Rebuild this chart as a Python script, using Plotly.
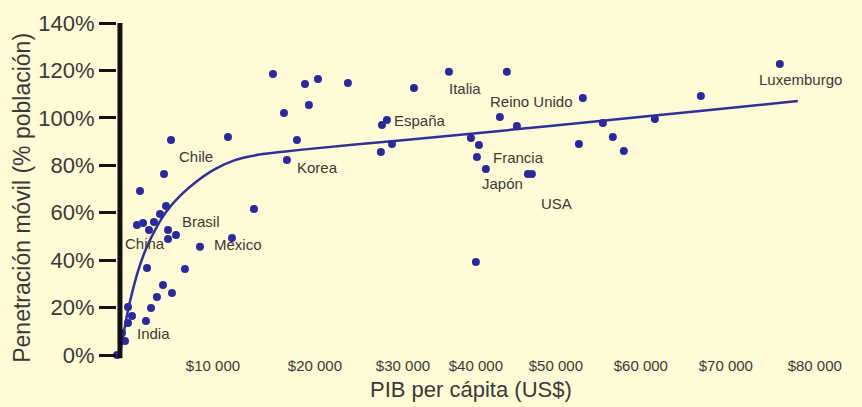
import plotly.graph_objects as go

# --- data (GDP per capita in US$, mobile penetration in %) ---
gdp = [0, 570, 920, 1260, 1720, 1260, 3320, 3900, 4580, 5270, 6300, 3440, 7790, 9510,
       13180, 15700, 5850, 6760, 5850, 3670, 4240, 2290, 2980, 4930, 5620, 2640, 5390,
       6190, 12720, 19480, 17880, 19140, 20630, 21550, 23040, 26470, 22000, 34040,
       38050, 30370, 30940, 31520, 30250, 40570, 41490, 41260, 42290, 44690, 43890,
       45840, 47100, 47560, 53400, 52950, 55700, 56840, 58100, 61660, 66930, 75980, 41140]
penetration = [0, 9.3, 5.9, 13.5, 16.4, 20.2, 14.3, 19.8, 24.5, 29.5, 26.1, 36.7, 36.3, 45.6,
               49.3, 61.6, 48.9, 50.6, 52.7, 52.7, 56.1, 54.8, 55.7, 59.5, 62.8, 69.2, 76.3,
               90.7, 91.9, 82.2, 118.5, 102.1, 90.7, 114.3, 116.4, 114.7, 105.4, 112.6,
               119.4, 97.0, 99.1, 89.0, 85.6, 91.5, 88.6, 83.5, 78.4, 119.4, 100.4,
               96.6, 76.3, 76.3, 108.4, 89.0, 97.8, 91.9, 86.0, 99.5, 109.2, 122.7, 39.2]

# fitted trend curve
fit_gdp = [300, 690, 1150, 1720, 2410, 3320, 4360, 5620, 7220, 9050, 11230, 13520, 16160,
           18680, 20970, 32430, 43890, 55350, 66810, 78040]
fit_pen = [0, 7.6, 16.9, 26.1, 35.4, 44.7, 52.7, 60.3, 67.1, 73.0, 78.4, 82.2, 84.4,
           85.6, 86.5, 90.5, 94.5, 98.7, 102.9, 107.1]

# country labels
countries = ["Chile", "Brasil", "China", "Mexico", "India", "Korea", "España", "Italia",
             "Reino Unido", "Francia", "Japón", "USA", "Luxemburgo"]
label_gdp = [9050, 9630, 3210, 13870, 4240, 23040, 34720, 39880, 47560, 46070, 44240,
             50420, 78390]
label_pen = [83.5, 56.5, 47.2, 46.4, 8.9, 78.9, 98.7, 112.2, 106.7, 83.1, 72.5, 63.7, 116.0]

# x tick labels (placed where the reference prints them)
tick_text = ["$10 000", "$20 000", "$30 000", "$40 000", "$50 000", "$60 000",
             "$70 000", "$80 000"]
tick_at = [11000, 22690, 32780, 41140, 50310, 60050, 69790, 79990]

y_ticks = [0, 20, 40, 60, 80, 100, 120, 140]

BG = "#FFFBD6"
DOT = "#2A2A9E"
TXT = "#3A3A3A"
FONT = "Liberation Sans, Arial, Helvetica, sans-serif"

fig = go.Figure()
fig.add_trace(go.Scatter(x=fit_gdp, y=fit_pen, mode="lines",
                         line=dict(color="#30309A", width=2.5, shape="spline", smoothing=0.9),
                         hoverinfo="skip", showlegend=False, cliponaxis=False))
fig.add_trace(go.Scatter(x=gdp, y=penetration, mode="markers",
                         marker=dict(color=DOT, size=8, line=dict(width=0)),
                         showlegend=False, cliponaxis=False))

for name, gx, py in zip(countries, label_gdp, label_pen):
    fig.add_annotation(x=gx, y=py, text=name, showarrow=False,
                       font=dict(family=FONT, size=15, color=TXT),
                       xanchor="center", yanchor="middle")

# axis titles
fig.add_annotation(xref="paper", yref="paper", x=0.48, y=-0.105, text="PIB per cápita (US$)",
                   showarrow=False, font=dict(family=FONT, size=22, color=TXT),
                   xanchor="center", yanchor="middle")
fig.add_annotation(xref="paper", yref="paper", x=-0.129, y=0.473,
                   text="Penetración móvil (% población)", textangle=-90,
                   showarrow=False, font=dict(family=FONT, size=23, color=TXT),
                   xanchor="center", yanchor="middle")

# thick vertical axis line
fig.add_shape(type="line", xref="paper", yref="paper", x0=0.004, x1=0.004, y0=-0.01, y1=1.0,
              line=dict(color="#111111", width=5))

fig.update_layout(
    width=862, height=407,
    margin=dict(l=117, r=7, t=23, b=52),
    paper_bgcolor=BG, plot_bgcolor=BG,
    font=dict(family=FONT, color=TXT),
    xaxis=dict(range=[0, 84600], showgrid=False, zeroline=False, showline=False,
               tickvals=tick_at, ticktext=tick_text, ticks="",
               tickfont=dict(size=15, color=TXT)),
    yaxis=dict(range=[0, 140], tickvals=y_ticks, ticktext=[f"{v}%" for v in y_ticks],
               showgrid=False, zeroline=False, showline=False,
               ticks="outside", ticklen=17, tickwidth=3, tickcolor="#111111",
               tickfont=dict(size=22, color=TXT)),
)

fig.write_html("out.html",
               config={"displayModeBar": False},
               post_script="document.body.style.margin='0px';"
                           "document.body.style.overflow='hidden';"
                           "document.body.style.background='" + BG + "';")
